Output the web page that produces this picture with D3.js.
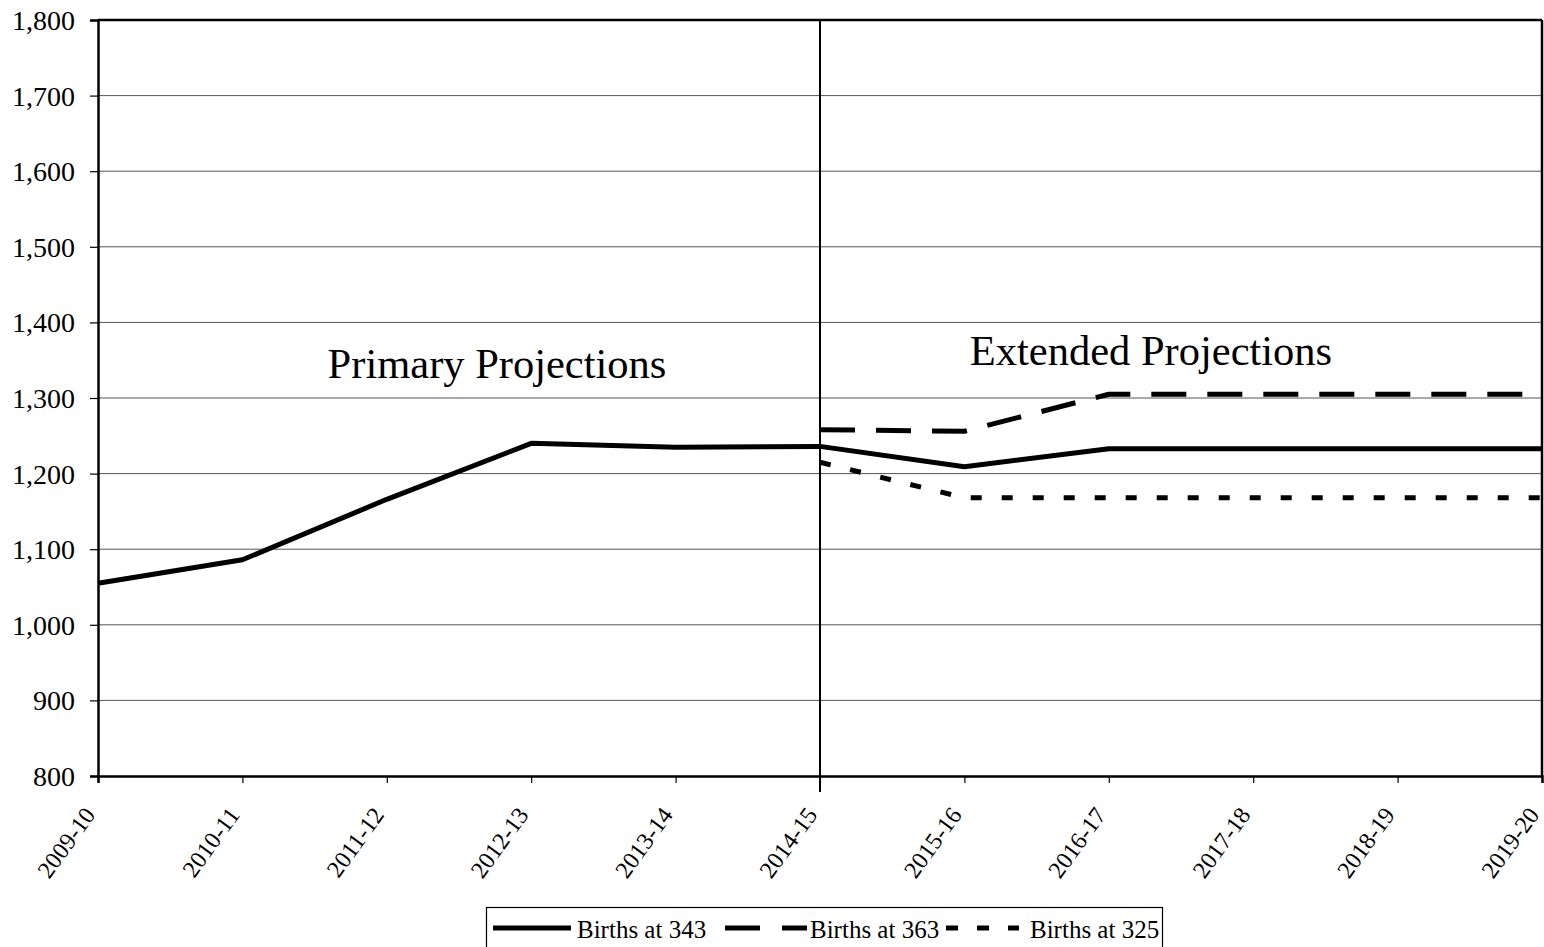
<!DOCTYPE html>
<html>
<head>
<meta charset="utf-8">
<script src="https://cdn.jsdelivr.net/npm/d3@7"></script>
<style>
  html, body { margin: 0; padding: 0; background: #fff; }
  svg { display: block; font-family: "Liberation Serif", "Times New Roman", serif; }
</style>
</head>
<body>
<svg id="chart" width="1544" height="947"></svg>
<script>
const categories = ["2009-10","2010-11","2011-12","2012-13","2013-14","2014-15","2015-16","2016-17","2017-18","2018-19","2019-20"];
const births343 = [1055, 1086, 1166, 1240, 1235, 1236, 1209, 1233, 1233, 1233, 1233];
const births363 = [null, null, null, null, null, 1258, 1256, 1305, 1305, 1305, 1305];
const births325 = [null, null, null, null, null, 1215, 1168, 1168, 1168, 1168, 1168];
const seriesNames = ["Births at 343", "Births at 363", "Births at 325"];
const yTicks = [800, 900, 1000, 1100, 1200, 1300, 1400, 1500, 1600, 1700, 1800];
const annotations = ["Primary Projections", "Extended Projections"];
const dividerCategory = "2014-15";

const svg = d3.select("#chart");
const x0 = 98, x1 = 1542;

const x = d3.scalePoint().domain(categories).range([x0, x1]);
const y = d3.scaleLinear().domain([800, 1800]).range([776, 20]);

// gridlines
svg.append("g").selectAll("line").data(yTicks.slice(1, -1)).join("line")
  .attr("x1", x0).attr("x2", x1)
  .attr("y1", d => y(d)).attr("y2", d => y(d))
  .attr("stroke", "#555").attr("stroke-width", 1);

// divider
svg.append("line")
  .attr("x1", x(dividerCategory)).attr("x2", x(dividerCategory))
  .attr("y1", y(1800)).attr("y2", y(800) + 16)
  .attr("stroke", "#000").attr("stroke-width", 2);

// frame (top & right)
svg.append("line").attr("x1", x0).attr("x2", x1).attr("y1", y(1800)).attr("y2", y(1800))
  .attr("stroke", "#000").attr("stroke-width", 2.5);
svg.append("line").attr("x1", x1).attr("x2", x1).attr("y1", y(1800)).attr("y2", y(800))
  .attr("stroke", "#000").attr("stroke-width", 2.5);

// y axis
const yAxis = svg.append("g").attr("transform", `translate(${x0},0)`)
  .call(d3.axisLeft(y).tickValues(yTicks).tickSize(8).tickPadding(15).tickFormat(d3.format(",")));
yAxis.select(".domain").attr("stroke", "#000").attr("stroke-width", 2.5);
yAxis.selectAll(".tick line").attr("stroke", "#000").attr("stroke-width", 1.2);
yAxis.selectAll(".tick text").attr("font-size", 28).attr("fill", "#000")
  .attr("font-family", "Liberation Serif").attr("dy", "0.34em");

// x axis
const xAxis = svg.append("g").attr("transform", `translate(0,${y(800)})`)
  .call(d3.axisBottom(x).tickSize(7).tickPadding(10));
xAxis.select(".domain").attr("stroke", "#000").attr("stroke-width", 2.5);
xAxis.selectAll(".tick line").attr("stroke", "#000").attr("stroke-width", 1.2);
xAxis.selectAll(".tick text").attr("font-size", 24).attr("fill", "#000")
  .attr("font-family", "Liberation Serif")
  .attr("text-anchor", "end")
  .attr("transform", "translate(-9,34) rotate(-54)")
  .attr("dx", 0).attr("dy", "0.35em").attr("y", 0).attr("x", 0);

// lines
const styles = [
  { data: births343, dash: null },
  { data: births363, dash: "35,21" },
  { data: births325, dash: "11,20" }
];
const lineGen = d3.line()
  .defined(d => d.v !== null)
  .x(d => x(d.c)).y(d => y(d.v));
styles.forEach(s => {
  svg.append("path")
    .datum(categories.map((c, i) => ({ c, v: s.data[i] })))
    .attr("d", lineGen)
    .attr("fill", "none").attr("stroke", "#000").attr("stroke-width", 5)
    .attr("stroke-dasharray", s.dash)
    .attr("stroke-linejoin", "round");
});

// annotations
const annY = [378, 365];
const annX = [497, 1151];
annotations.forEach((t, i) => {
  svg.append("text").attr("x", annX[i]).attr("y", annY[i])
    .attr("text-anchor", "middle").attr("font-size", 42.5)
    .attr("font-family", "Liberation Serif").attr("fill", "#000")
    .text(t);
});

// legend
const leg = svg.append("g");
leg.append("rect").attr("x", 486.5).attr("y", 907.5).attr("width", 676).attr("height", 50)
  .attr("fill", "#fff").attr("stroke", "#000").attr("stroke-width", 1.2);
const legItems = [
  { lx1: 493, lx2: 571, tx: 577, dash: null },
  { lx1: 725, lx2: 807, tx: 810, dash: "35,22" },
  { lx1: 946, lx2: 1019, tx: 1030, dash: "12,19" }
];
legItems.forEach((it, i) => {
  leg.append("line").attr("x1", it.lx1).attr("x2", it.lx2).attr("y1", 928).attr("y2", 928)
    .attr("stroke", "#000").attr("stroke-width", 5).attr("stroke-dasharray", it.dash);
  leg.append("text").attr("x", it.tx).attr("y", 938).attr("font-size", 25)
    .attr("font-family", "Liberation Serif").attr("fill", "#000").text(seriesNames[i]);
});
</script>
</body>
</html>
